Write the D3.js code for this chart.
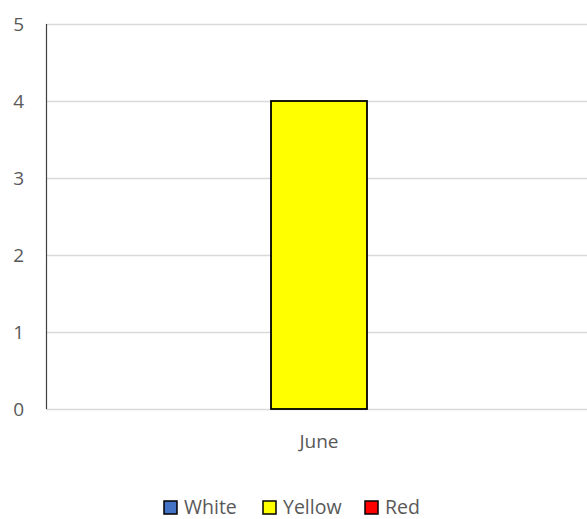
<!DOCTYPE html>
<html>
<head>
<meta charset="utf-8">
<script src="https://cdn.jsdelivr.net/npm/d3@7"></script>
<style>
  body { margin: 0; background: #fff; }
  text { font-family: "Open Sans", "Liberation Sans", sans-serif; fill: #595959; }
</style>
</head>
<body>
<svg id="chart" width="587" height="519"></svg>
<script>
// Data
const categories = ["June"];
const seriesNames = ["White", "Yellow", "Red"];
const seriesColors = ["#4472C4", "#FFFF00", "#FF0000"];
const values = {
    White: [0],
    Yellow: [4],
    Red: [0]
};
const yTicks = [0, 1, 2, 3, 4, 5];

const svg = d3.select("#chart");
const margin = { left: 46, right: -5, top: 24, bottom: 110 };
const width = +svg.attr("width");
const height = +svg.attr("height");

// Scales
const y = d3.scaleLinear().domain([0, 5]).range([409, 24]);
const x0 = d3.scaleBand()
    .domain(categories)
    .range([margin.left, width - margin.right])
    .paddingOuter(0.448)
    .paddingInner(0);
const x1 = d3.scaleBand()
    .domain(seriesNames)
    .range([0, x0.bandwidth()]);

// Gridlines
svg.append("g")
    .selectAll("line")
    .data(yTicks)
    .enter()
    .append("line")
    .attr("x1", margin.left)
    .attr("x2", width)
    .attr("y1", (d) => Math.round(y(d)) + 0.5)
    .attr("y2", (d) => Math.round(y(d)) + 0.5)
    .attr("stroke", "#d9d9d9")
    .attr("stroke-width", 1.5);

// Y axis line
svg.append("line")
    .attr("x1", margin.left + 0.5)
    .attr("x2", margin.left + 0.5)
    .attr("y1", y(5))
    .attr("y2", y(0))
    .attr("stroke", "#404040")
    .attr("stroke-width", 1.2);

// Y tick labels
svg.append("g")
    .selectAll("text")
    .data(yTicks)
    .enter()
    .append("text")
    .attr("x", 24)
    .attr("y", (d) => y(d))
    .attr("dy", "0.35em")
    .attr("text-anchor", "end")
    .attr("font-size", 19)
    .text((d) => d);

// Bars
const groups = svg.append("g")
    .selectAll("g")
    .data(categories)
    .enter()
    .append("g")
    .attr("transform", (d) => `translate(${x0(d)},0)`);

groups.selectAll("rect")
    .data((d, i) => seriesNames.map((s, k) => ({ name: s, value: values[s][i], color: seriesColors[k] })))
    .enter()
    .filter((d) => d.value > 0)
    .append("rect")
    .attr("x", (d) => x1(d.name))
    .attr("y", (d) => y(d.value))
    .attr("width", x1.bandwidth())
    .attr("height", (d) => y(0) - y(d.value))
    .attr("fill", (d) => d.color)
    .attr("stroke", "#000")
    .attr("stroke-width", 1.8);

// Category labels
svg.append("g")
    .selectAll("text")
    .data(categories)
    .enter()
    .append("text")
    .attr("x", (d) => x0(d) + x0.bandwidth() / 2)
    .attr("y", 448)
    .attr("text-anchor", "middle")
    .attr("font-size", 19)
    .text((d) => d);

// Legend
const legendX = [164, 263, 365];
const legend = svg.append("g")
    .selectAll("g")
    .data(seriesNames)
    .enter()
    .append("g")
    .attr("transform", (d, i) => `translate(${legendX[i]},501)`);

legend.append("rect")
    .attr("width", 13)
    .attr("height", 13)
    .attr("fill", (d, i) => seriesColors[i])
    .attr("stroke", "#000")
    .attr("stroke-width", 1.5);

legend.append("text")
    .attr("x", 20)
    .attr("y", 13)
    .attr("font-size", 19.5)
    .text((d) => d);
</script>
</body>
</html>
